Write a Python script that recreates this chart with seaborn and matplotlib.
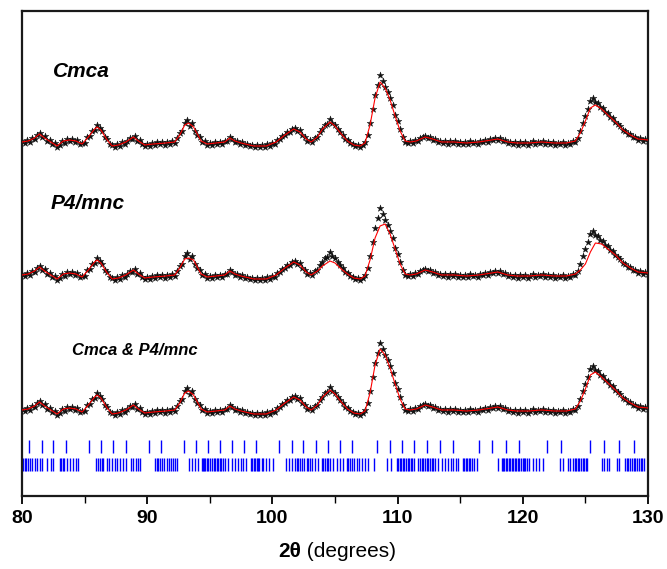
import numpy as np
import matplotlib
matplotlib.use("Agg")
import matplotlib.pyplot as plt
import seaborn as sns

# ---------------- data ----------------
# observed scan (same pattern used for the three refinements), step 0.2 deg
two_theta_obs = np.linspace(80.0, 130.0, 251)
intensity_obs = [
    2, 0, 3, 1, 5, 4, 8, 10, 6, 7,
    2, 3, -1, 0, -4, -2, 2, 0, 4, 2,
    4, 1, 3, -1, 0, 0, 6, 7, 12, 13,
    18, 15, 12, 6, 4, -1, -2, -4, -1, -3,
    1, -1, 2, 5, 4, 7, 2, 3, -1, -3,
    -1, -3, 0, -2, 1, -1, 1, -2, 1, -1,
    2, 0, 5, 10, 12, 20, 23, 17, 20, 12,
    8, 6, 1, 2, -2, 0, -2, 1, -1, 1,
    -1, 2, 2, 6, 4, 1, 2, -1, 1, -2,
    -1, -3, -2, -4, -2, -4, -2, -4, -1, -3,
    0, -1, 3, 4, 7, 8, 11, 11, 14, 15,
    12, 13, 8, 6, 2, 3, 1, 5, 6, 11,
    14, 18, 19, 24, 20, 18, 14, 11, 8, 4,
    3, 0, -1, -3, -2, -4, -2, 1, 8, 20,
    34, 48, 58, 68, 62, 56, 51, 45, 38, 28,
    22, 14, 6, 1, 0, 2, 0, 3, 2, 5,
    6, 7, 5, 6, 3, 4, 1, 2, 0, 2,
    -1, 2, 0, 2, -1, 1, -1, 1, -1, 2,
    0, 1, -1, 2, 1, 3, 1, 4, 3, 5,
    3, 5, 2, 3, 0, 1, -1, 1, -2, 1,
    -1, 1, -2, 0, 2, -1, 1, 0, 2, -1,
    1, -1, 1, -2, 0, -1, 1, -2, 0, -1,
    2, 1, 5, 12, 20, 27, 34, 42, 45, 41,
    40, 36, 35, 31, 30, 26, 25, 21, 19, 17,
    13, 12, 9, 9, 6, 6, 3, 5, 2, 4,
    2,
]

# calculated profiles
two_theta_calc = [80.0, 80.5, 81.0, 81.4, 81.8, 82.3, 82.8, 83.3, 83.8, 84.3,
                  84.8, 85.3, 85.8, 86.0, 86.3, 86.8, 87.2, 87.7, 88.3, 88.9,
                  89.3, 89.8, 90.5, 91.5, 92.2, 92.6, 93.0, 93.3, 93.7, 94.0,
                  94.3, 94.8, 95.5, 96.2, 96.6, 97.0, 97.5, 98.5, 99.5, 100.3,
                  101.0, 101.7, 102.2, 102.7, 103.1, 103.6, 104.0, 104.6, 105.0, 105.5,
                  106.0, 106.5, 107.0, 107.4, 107.8, 108.2, 108.6, 109.0, 109.4, 109.8,
                  110.2, 110.6, 111.0, 111.5, 112.2, 112.8, 113.5, 114.5, 115.5, 116.5,
                  117.5, 118.0, 118.8, 119.5, 120.5, 121.5, 122.5, 123.5, 124.2, 124.6,
                  125.0, 125.4, 125.8, 126.3, 126.8, 127.4, 128.0, 128.6, 129.2, 130.0]
calc_cmca = [1, 2, 5, 9, 5, 1, -3, 2, 3, 2,
             -1, 6, 14, 16, 13, 3, -3, -2, 1, 6,
             2, -2, -1, 0, 1, 8, 18, 20, 16, 9,
             2, -1, 0, 1, 5, 2, 0, -3, -3, 1,
             8, 14, 11, 4, 1, 6, 14, 21, 17, 9,
             2, -2, -3, 0, 18, 45, 61, 55, 43, 27,
             12, 2, 1, 2, 6, 4, 1, 1, 0, 1,
             3, 4, 1, 0, 0, 1, 0, 0, 2, 10,
             22, 35, 38, 34, 28, 21, 13, 8, 4, 3]
calc_p4mnc = [1, 2, 5, 9, 5, 1, -3, 2, 3, 2,
              -1, 6, 14, 16, 13, 3, -3, -2, 1, 6,
              2, -2, -1, 0, 1, 8, 17, 18, 16, 9,
              2, -1, 0, 1, 5, 2, 0, -3, -3, 1,
              8, 14, 11, 4, 1, 5, 10, 15, 13, 7,
              2, -2, -3, 0, 16, 38, 50, 52, 42, 27,
              12, 2, 1, 2, 6, 4, 1, 1, 0, 1,
              3, 4, 1, 0, 0, 1, 0, 0, 2, 6,
              12, 24, 33, 32, 27, 21, 13, 8, 4, 3]
calc_both = [1, 2, 5, 9, 5, 1, -3, 2, 3, 2,
             -1, 6, 14, 16, 13, 3, -3, -2, 1, 6,
             2, -2, -1, 0, 1, 8, 18, 20, 16, 9,
             2, -1, 0, 1, 5, 2, 0, -3, -3, 1,
             8, 14, 11, 4, 1, 6, 14, 21, 17, 9,
             2, -2, -3, 0, 18, 46, 62, 56, 43, 27,
             12, 2, 1, 2, 6, 4, 1, 1, 0, 1,
             3, 4, 1, 0, 0, 1, 0, 0, 2, 10,
             22, 36, 39, 34, 28, 21, 13, 8, 4, 3]

model_labels = ["Cmca", "P4/mnc", "Cmca & P4/mnc"]

# reflection markers
reflections_row1 = [80.58, 81.57, 82.50, 83.49, 85.38, 86.31, 87.30, 88.28, 90.14, 91.10,
                    92.94, 93.90, 94.88, 95.81, 96.75, 97.73, 98.66, 100.53, 101.54, 102.47,
                    103.46, 104.47, 105.40, 106.38, 108.33, 109.39, 110.33, 111.33, 112.37, 113.39,
                    114.45, 116.50, 117.56, 118.63, 119.72, 121.96, 123.02, 125.37, 126.49, 127.71,
                    128.88]
reflections_row2 = [80.05, 80.2, 80.35, 80.5, 80.65, 80.77, 81.04, 81.22, 81.44, 81.62,
                    82.02, 82.29, 82.5, 83.0, 83.12, 83.25, 83.38, 83.57, 83.83, 84.1,
                    84.31, 84.5, 85.92, 86.05, 86.2, 86.35, 86.5, 86.82, 86.98, 87.16,
                    87.43, 87.6, 87.83, 88.09, 88.3, 88.7, 88.89, 89.08, 89.29, 89.42,
                    90.6, 90.75, 90.9, 91.05, 91.16, 91.37, 91.56, 91.78, 91.92, 92.05,
                    92.2, 92.36, 93.34, 93.55, 93.82, 94.03, 94.35, 94.45, 94.55, 94.65,
                    94.75, 94.88, 95.0, 95.2, 95.3, 95.42, 95.55, 95.65, 95.78, 95.9,
                    96.05, 96.2, 96.48, 96.75, 97.01, 97.28, 97.49, 97.68, 97.89, 98.28,
                    98.4, 98.52, 98.64, 98.76, 98.87, 98.95, 99.14, 99.27, 99.49, 99.75,
                    100.02, 101.08, 101.35, 101.54, 101.8, 101.95, 102.08, 102.2, 102.33, 102.52,
                    102.73, 102.86, 103.0, 103.13, 103.4, 103.67, 103.95, 104.08, 104.2, 104.33,
                    104.46, 104.6, 104.86, 105.13, 105.4, 105.66, 105.93, 106.06, 106.2, 106.33,
                    106.5, 106.73, 106.92, 107.13, 107.4, 107.66, 108.14, 109.13, 109.47, 109.93,
                    110.05, 110.17, 110.3, 110.42, 110.55, 110.68, 110.8, 110.93, 111.05, 111.18,
                    111.3, 111.66, 111.8, 111.93, 112.06, 112.2, 112.33, 112.46, 112.6, 112.73,
                    112.86, 112.99, 113.25, 113.52, 113.78, 114.05, 114.24, 114.45, 114.66, 114.85,
                    115.2, 115.32, 115.45, 115.58, 115.7, 115.78, 115.92, 116.1, 116.32, 118.04,
                    118.31, 118.42, 118.53, 118.64, 118.75, 118.86, 118.97, 119.1, 119.24, 119.36,
                    119.48, 119.6, 119.72, 119.85, 119.98, 120.1, 120.2, 120.3, 120.51, 120.78,
                    121.05, 121.31, 121.63, 122.97, 123.24, 123.64, 123.77, 124.03, 124.15, 124.28,
                    124.4, 124.52, 124.65, 124.78, 124.9, 125.03, 125.15, 126.3, 126.5, 126.7,
                    126.88, 127.49, 127.68, 128.16, 128.3, 128.44, 128.58, 128.72, 128.86, 129.0,
                    129.14, 129.28, 129.42, 129.56, 129.7]

x_ticks = [80, 90, 100, 110, 120, 130]

# ---------------- layout / style ----------------
trace_offsets = [353, 220, 85]
label_pos = [(82.5, 424, 15), (82.3, 292, 15), (84.0, 145, 12)]

sns.set_style("white")
plt.rcParams["font.family"] = ["Liberation Sans", "DejaVu Sans"]
plt.rcParams["text.color"] = "black"
plt.rcParams["xtick.color"] = "black"
plt.rcParams["axes.labelcolor"] = "black"

fig = plt.figure(figsize=(6.67, 5.69), dpi=100)
ax = fig.add_axes([0.033, 0.1283, 0.9385, 0.8524])

obs = np.array(intensity_obs, dtype=float)
for calc, off, lab, (tx, ty, fs) in zip([calc_cmca, calc_p4mnc, calc_both],
                                        trace_offsets, model_labels, label_pos):
    sns.scatterplot(x=two_theta_obs, y=obs + off, ax=ax, marker="*", s=26,
                    color="#111111", linewidth=0.3, edgecolor="#111111", zorder=2)
    sns.lineplot(x=two_theta_calc, y=np.array(calc, dtype=float) + off, ax=ax,
                 color="red", linewidth=0.8, estimator=None, sort=False, zorder=3)
    ax.text(tx, ty, lab, fontsize=fs, fontweight="bold", fontstyle="italic",
            ha="left", va="center", color="black")

ax.vlines(reflections_row1, 43, 56, color="#0000ff", linewidth=1.0)
ax.vlines(reflections_row2, 25, 38, color="#0000ff", linewidth=1.0)

ax.set_xlim(80, 130)
ax.set_ylim(0, 485)
ax.set_yticks([])
ax.set_xticks(x_ticks)
ax.set_xticks([85, 95, 105, 115, 125], minor=True)
ax.set_xticklabels([str(t) for t in x_ticks], fontsize=14, fontweight="bold", color="black")
ax.tick_params(axis="x", which="major", direction="out", length=6, width=1.3,
               bottom=True, pad=4, colors="black")
ax.tick_params(axis="x", which="minor", direction="out", length=5, width=1.0,
               bottom=True, colors="black")
for side, sp in ax.spines.items():
    sp.set_visible(True)
    sp.set_color("#1a1a1a")
    sp.set_linewidth(1.6)
ax.set_xlabel("")

fig.text(0.452, 0.0316, "2θ", fontsize=15, fontweight="bold", ha="right", va="center", color="black")
fig.text(0.452, 0.0316, " (degrees)", fontsize=15, ha="left", va="center", color="black")

fig.savefig("out.png", dpi=100)
